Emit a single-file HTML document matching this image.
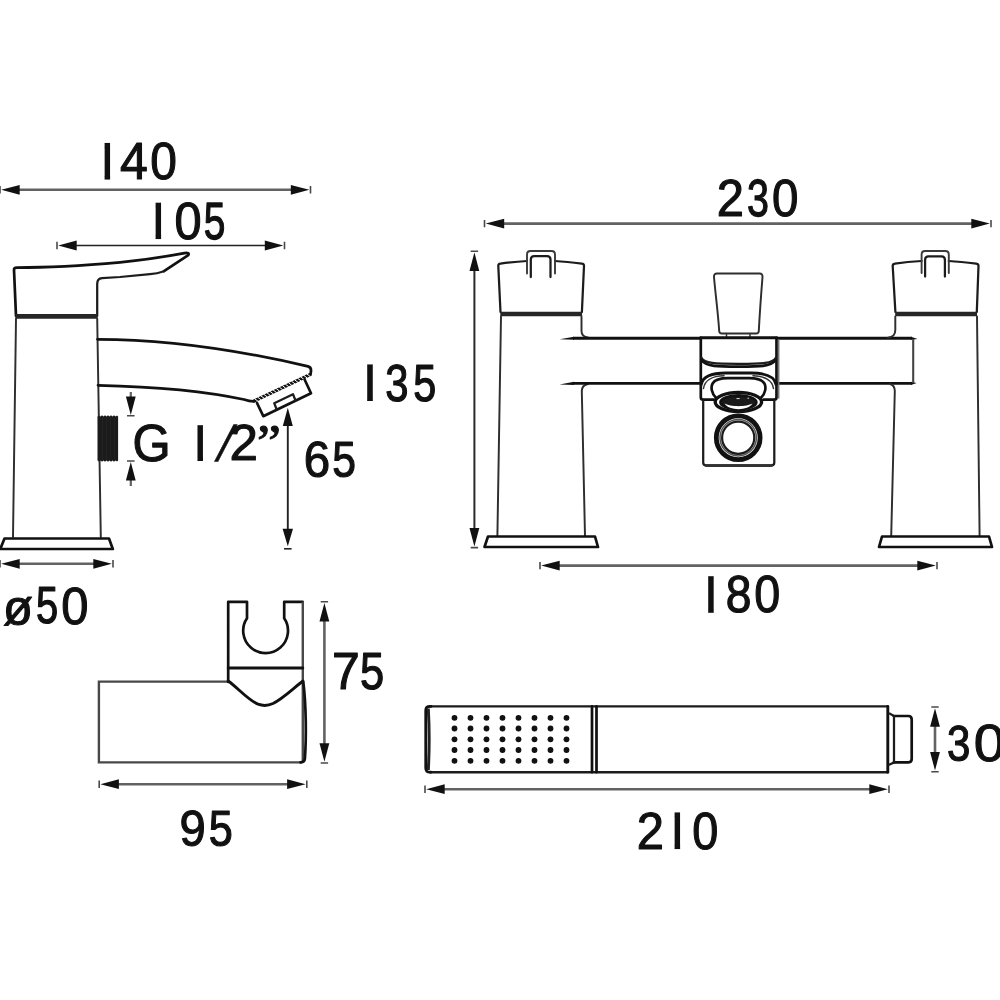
<!DOCTYPE html>
<html lang="en">
<head>
<meta charset="utf-8">
<title>Bath shower mixer - dimensions</title>
<style>
html,body{margin:0;padding:0;background:#fff;}
body{width:1000px;height:1000px;overflow:hidden;font-family:"Liberation Sans",sans-serif;}
svg{display:block;position:absolute;left:0;top:0;}
text{font-family:"Liberation Sans",sans-serif;font-size:100px;fill:#111;stroke:#111;stroke-linejoin:round;}
.o{fill:none;stroke:#111;stroke-width:2.7;stroke-linejoin:round;stroke-linecap:round;}
.m{fill:none;stroke:#1c1c1c;stroke-width:2.25;stroke-linejoin:round;stroke-linecap:round;}
.p{fill:none;stroke:#2e2e2e;stroke-width:1.95;stroke-linejoin:round;stroke-linecap:round;}
.n{fill:none;stroke:#333;stroke-width:1.5;stroke-linejoin:round;stroke-linecap:round;}
.k{fill:none;stroke:#262626;stroke-width:4.7;}
.k2{fill:none;stroke:#111;stroke-width:2.9;stroke-linecap:round;stroke-linejoin:round;}
.h{fill:none;stroke:#111;stroke-width:3.2;}
.h2{fill:none;stroke:#fff;stroke-width:1.3;stroke-dasharray:0.7 1.7;}
.g{fill:none;stroke:#484848;stroke-width:2.4;}
.d{fill:none;stroke:#626262;}
.a{fill:#111;stroke:none;}
.t{fill:none;stroke:#4a4a4a;stroke-width:1.6;}
</style>
</head>
<body>
<svg width="1000" height="1000" viewBox="0 0 1000 1000">
<defs><clipPath id="one"><rect x="25.146" y="-68.799" width="8.838" height="68.799"/></clipPath></defs>
<rect width="1000" height="1000" fill="#fff"/>
<g id="side">
<path class="o" d="M16 316L14 269.6Q14 267.6 17 267.6C45 267.6 85 265.5 120 262.4C145 259.8 165 256.8 184.5 253.2Q189.8 252.2 188.3 255.2L164 271.2"/>
<path class="m" d="M164 271.2Q157 273.6 150 274.2L120 277L102 278.2Q97.2 278.5 97.2 284V316"/>
<path class="k" d="M15.5 316.3H97.5"/>
<path class="p" d="M16 318.5L13 537M97.2 318.5L100.8 537"/>
<path class="o" d="M4.5 538.5H109L112.8 549H0.3Z"/>
<path class="o" d="M97.5 339.3C150 339.3 218 345.2 308 366.4Q311.3 367.3 311 371L310.6 374.3"/>
<path class="o" d="M98 385.3C150 386.5 205 391 244 399.5Q250 401.5 254 401.3"/>
<path class="h" d="M253.5 401.3L310.8 374.2"/>
<path d="M254.6 398.7L258.0 401.2M257.7 397.2L261.1 399.8M260.7 395.8L264.2 398.3M263.8 394.3L267.2 396.9M266.9 392.8L270.3 395.4M270.0 391.4L273.4 394.0M273.0 389.9L276.5 392.5M276.1 388.5L279.5 391.1M279.2 387.0L282.6 389.6M282.3 385.6L285.7 388.2M285.3 384.1L288.8 386.7M288.4 382.7L291.8 385.3M291.5 381.2L294.9 383.8M294.6 379.8L298.0 382.4M297.6 378.3L301.1 380.9M300.7 376.9L304.1 379.5M303.8 375.4L307.2 378.0M306.9 374.0L310.3 376.6" fill="none" stroke="#fff" stroke-width="1"/>
<path class="o" d="M257 403L263.3 416.2L311 393.2L304.6 379.5"/>
<path class="m" d="M276.5 409L274.2 403.2L293 394.2L295.3 400"/>
<path fill="#1b1b1b" d="M97.5 416.5l1.5-1 1.5 1 1.5-1.2 1.5 1.2 1.5-1.2 1.5 1.2 1.5-1.2 1.5 1.2 1.5-1.2 1.5 1.2 1.5-1.2 1.5 1.2 1.5-1 1.1 1V460.5l-1.1 1-1.5-1-1.5 1.2-1.5-1.2-1.5 1.2-1.5-1.2-1.5 1.2-1.5-1.2-1.5 1.2-1.5-1.2-1.5 1.2-1.5-1.2-1.5 1-1.5-1Z"/>
<path stroke="#252525" stroke-width="0.7" fill="none" d="M102.5 418V459M106.5 418V459M110.5 418V459M114.5 418V459"/>
</g>
<path d="M8.0 189.8H302.5" class="d" stroke-width="2.6"/><path d="M1.2 189.8l18.5 -4.9v9.8z" class="a"/><path d="M309.3 189.8l-18.5 -4.9v9.8z" class="a"/><path d="M0.0 186.1v7.4M310.5 186.1v7.4" class="t"/>
<path d="M65.0 245.5H276.5" class="d" style="stroke:#222" stroke-width="1.7"/><path d="M58.2 245.5l18.5 -4.9v9.8z" class="a"/><path d="M283.3 245.5l-18.5 -4.9v9.8z" class="a"/><path d="M57.0 241.8v7.4M284.5 241.8v7.4" class="t"/>
<path d="M8.0 563.8H105.0" class="d" stroke-width="2.6"/><path d="M1.2 563.8l18.5 -4.9v9.8z" class="a"/><path d="M111.8 563.8l-18.5 -4.9v9.8z" class="a"/><path d="M0.0 560.1v7.4M113.0 560.1v7.4" class="t"/>
<path d="M287.8 415V540" class="d" style="stroke:#222" stroke-width="1.9"/><path d="M287.8 407.8l-5 18.2h10zM287.8 546.2l-5.2 -17.5h10.4z" class="a"/><path d="M284 548.8h7.6" class="t" style="stroke:#222"/>
<path d="M130.8 392V400M130.8 478V486" class="d" stroke-width="2.2"/><path d="M130.8 415l-4.9 -18.5h9.8zM130.8 462l-4.9 18.5h9.8z" class="a"/><path d="M127 415.8h7.6M127 461h7.6" class="t"/>
<g id="front">
<path class="m" d="M500.5 312L498.3 266Q498.2 263.9 500.5 263.6C508 262.6 518 261.5 527 261M555 261C564 261.5 574 262.6 581.8 263.6Q584.2 263.9 584 266L581.9 312"/>
<path class="n" style="stroke-width:1.9;stroke:#3a3a3a" d="M527 273.5V254.5Q527 251 530.5 251H551.5Q555 251 555 254.5V273.5"/>
<path class="m" d="M530.8 277V259.5Q530.8 256 534.3 256H547Q550.5 256 550.5 259.5V277"/>
<path class="k" d="M500.3 314H582.1"/>
<path class="p" d="M501 316.5L497.4 536"/>
<path class="p" d="M581.5 316.5V331Q581.5 337 588.5 337.6"/>
<path class="p" d="M588 384Q582 385 581.8 391L585 536"/>
<path class="o" d="M488 536.5H595L598 547H484.5Z"/>
<path class="k2" d="M573 338.3H700.5M573 383.4H700.5" style="stroke-linecap:butt"/>
<path fill="#111" d="M559.5 339.3L574 336.75V339.85ZM559.5 384.4L574 381.85V384.95Z"/>
<path class="k2" d="M777 338.3H912M777 383.4H912" style="stroke-linecap:butt"/>
<path fill="#111" d="M917.6 338.9L911 336.75V339.85ZM916.6 383.1L911 381.85V384.95Z"/>
<path class="g" d="M913.2 339V383" style="stroke:#444;stroke-width:2.1"/>
<path class="m" d="M895.4 312L892.7 266Q892.6 263.9 895 263.6C902 262.6 913 261.5 921.6 261M948.8 261C957.5 261.5 968 262.6 976.2 263.6Q978.6 263.9 978.5 266L976.8 312"/>
<path class="n" style="stroke-width:1.9;stroke:#3a3a3a" d="M921.6 273V254.5Q921.6 251 925.1 251H945.3Q948.8 251 948.8 254.5V273"/>
<path class="m" d="M925.1 276.5V259.8Q925.1 256.3 928.6 256.3H941.4Q944.9 256.3 944.9 259.8V276.5"/>
<path class="k" d="M895.2 314H977"/>
<path class="p" d="M895.3 316.5V330Q895.3 337 888 337.6M977 316.5L979.6 536"/>
<path class="p" d="M890 384Q894.6 385 894.8 391L891.2 536"/>
<path class="o" d="M882 536.5H989L992 547H879Z"/>
<path class="p" d="M719.2 331C718 312 715.2 292 714 277Q713.8 273.5 717 273.5H759.5Q762.7 273.5 762.5 277C761.3 292 759.8 312 758.8 331Q758.7 333.5 756.2 333.5H721.8Q719.3 333.5 719.2 331Z"/>
<path class="n" d="M726.5 333.5v3M750 333.5v3"/>
<path class="k2" d="M700.8 337.8H776.5"/>
<path class="o" d="M700.8 337.8V397.2Q700.8 399.7 703.3 399.7H714M763.5 399.7H774Q776.5 399.7 776.5 397.2V337.8"/>
<path class="n" d="M778.7 340V398" style="stroke:#777"/>
<path class="m" d="M703.2 400.5V462.5Q703.2 465.3 706 465.3H771.5Q774.3 465.3 774.3 462.5V400.5"/>
<path class="k2" d="M706 465.6H771.5" style="stroke:#333"/>
<path class="m" d="M701.3 357.5C704 363.6 715 363.9 738.6 363.9S773 363.6 776 357.5"/>
<path class="o" d="M702 360.5C706 366.6 718 366.6 738.6 366.6S771 366.6 775.3 360.5"/>
<path class="k2" d="M701.2 384.5C702.5 377.5 710 373 726 373H751C767 373 774.8 377.5 776 384.5"/>
<path class="n" d="M703.5 388.5C704.5 381 711.5 376 724 375.8M753 375.8C765.5 376 772.5 381 773.5 388.5"/>
<path class="o" d="M715.8 397.5C711.5 393.5 710.6 387 712.6 383.5C715.3 379 721 378.2 728 378.2H749C756 378.2 761.7 379 764.4 383.5C766.4 387 765.5 393.5 761.2 397.5"/>
<ellipse cx="738.4" cy="402" rx="23.2" ry="9.6" fill="#fff" stroke="#111" stroke-width="3.3"/>
<ellipse cx="738.4" cy="402.3" rx="18" ry="6.9" fill="#1a1a1a" stroke="#111" stroke-width="2.6"/>
<path fill="#fff" d="M724.5 403.6C729 411 748 411 752.5 403.6C747 407 730 407 724.5 403.6Z"/>
<path stroke="#ddd" stroke-width="1" fill="none" d="M736.5 398.6h3.2M747.5 398.2h1.6"/>
<circle cx="738.2" cy="437.7" r="21.9" fill="none" stroke="#111" stroke-width="4.8"/>
<circle class="n" cx="738.2" cy="437.7" r="18.2" style="stroke:#555"/>
<circle class="m" cx="738.2" cy="437.7" r="16.1"/>
</g>
<path d="M492.5 223.6H983.0" class="d" stroke-width="2.6"/><path d="M485.7 223.6l18.5 -4.9v9.8z" class="a"/><path d="M989.8 223.6l-18.5 -4.9v9.8z" class="a"/><path d="M484.5 219.9v7.4M991.0 219.9v7.4" class="t"/>
<path d="M548.0 565.6H929.0" class="d" stroke-width="2.6"/><path d="M541.2 565.6l18.5 -4.9v9.8z" class="a"/><path d="M935.8 565.6l-18.5 -4.9v9.8z" class="a"/><path d="M540.0 561.9v7.4M937.0 561.9v7.4" class="t"/>
<path d="M474.4 259.2V539.6" class="d" style="stroke:#2a2a2a" stroke-width="2.0"/><path d="M474.4 252.4l-4.9 18.5h9.8z" class="a"/><path d="M474.4 546.4l-4.9 -18.5h9.8z" class="a"/><path d="M470.7 251.2h7.4M470.7 547.6h7.4" class="t"/>
<g id="bracket">
<path class="g" d="M228 681.6H98.9V762.4H302"/>
<path class="g" d="M302.8 668V761"/>
<path class="o" d="M303.3 682C306.2 705 306.4 738 304.9 758.5Q304.5 762.4 300.5 762.4"/>
<path class="o" d="M228.2 682V601.8H247V618.2A22.4 22.4 0 1 0 284.2 618.2V601.8H302.6"/>
<path class="g" d="M302.8 601.8V668"/>
<path class="k2" d="M228.2 668H302.8"/>
<path class="k2" d="M228.2 681C238 688 248 700 258 704.2Q265.5 707 273 703.5C283 698.5 293 688.5 303 681"/>
</g>
<path d="M324.4 609.7V755.0" class="d" stroke-width="2.6"/><path d="M324.4 602.9l-4.9 18.5h9.8z" class="a"/><path d="M324.4 761.8l-4.9 -18.5h9.8z" class="a"/><path d="M320.7 601.7h7.4M320.7 763.0h7.4" class="t"/>
<path d="M107.2 784.2H298.8" class="d" stroke-width="2.6"/><path d="M100.4 784.2l18.5 -4.9v9.8z" class="a"/><path d="M305.6 784.2l-18.5 -4.9v9.8z" class="a"/><path d="M99.2 780.5v7.4M306.8 780.5v7.4" class="t"/>
<g id="handset">
<path class="m" style="stroke-width:2.4" d="M887.5 706.4H430M430 772.2H887.5"/>
<path class="o" d="M431 706.4H430Q425.7 706.4 425.7 710.5V768Q425.7 772.2 430 772.2H431"/>
<path fill="none" stroke="#222" stroke-width="3" d="M428.3 708.5Q430 739 428.3 770"/>
<path class="o" d="M592 706.4V772.2M596.5 706.4V772.2"/>
<path class="k2" d="M887.8 706.4V772.2"/>
<path class="m" d="M889.6 713.6L894 716M889.6 764.6L894 762.4"/>
<path class="o" d="M893.8 716H908.3Q911.7 716 911.7 719.4V759Q911.7 762.4 908.3 762.4H893.8"/>
<path class="m" d="M894 716V762.4"/>
<g fill="#111"><circle cx="454.5" cy="717.8" r="2.9"/><circle cx="454.5" cy="728.5" r="2.9"/><circle cx="454.5" cy="739.3" r="2.9"/><circle cx="454.5" cy="750.0" r="2.9"/><circle cx="454.5" cy="760.8" r="2.9"/><circle cx="470.5" cy="717.8" r="2.9"/><circle cx="470.5" cy="728.5" r="2.9"/><circle cx="470.5" cy="739.3" r="2.9"/><circle cx="470.5" cy="750.0" r="2.9"/><circle cx="470.5" cy="760.8" r="2.9"/><circle cx="486.5" cy="717.8" r="2.9"/><circle cx="486.5" cy="728.5" r="2.9"/><circle cx="486.5" cy="739.3" r="2.9"/><circle cx="486.5" cy="750.0" r="2.9"/><circle cx="486.5" cy="760.8" r="2.9"/><circle cx="502.5" cy="717.8" r="2.9"/><circle cx="502.5" cy="728.5" r="2.9"/><circle cx="502.5" cy="739.3" r="2.9"/><circle cx="502.5" cy="750.0" r="2.9"/><circle cx="502.5" cy="760.8" r="2.9"/><circle cx="518.5" cy="717.8" r="2.9"/><circle cx="518.5" cy="728.5" r="2.9"/><circle cx="518.5" cy="739.3" r="2.9"/><circle cx="518.5" cy="750.0" r="2.9"/><circle cx="518.5" cy="760.8" r="2.9"/><circle cx="534.5" cy="717.8" r="2.9"/><circle cx="534.5" cy="728.5" r="2.9"/><circle cx="534.5" cy="739.3" r="2.9"/><circle cx="534.5" cy="750.0" r="2.9"/><circle cx="534.5" cy="760.8" r="2.9"/><circle cx="550.5" cy="717.8" r="2.9"/><circle cx="550.5" cy="728.5" r="2.9"/><circle cx="550.5" cy="739.3" r="2.9"/><circle cx="550.5" cy="750.0" r="2.9"/><circle cx="550.5" cy="760.8" r="2.9"/><circle cx="566.5" cy="717.8" r="2.9"/><circle cx="566.5" cy="728.5" r="2.9"/><circle cx="566.5" cy="739.3" r="2.9"/><circle cx="566.5" cy="750.0" r="2.9"/><circle cx="566.5" cy="760.8" r="2.9"/></g>
</g>
<path d="M935.0 715.0V763.7" class="d" stroke-width="2.6"/><path d="M935.0 708.2l-4.9 18.5h9.8z" class="a"/><path d="M935.0 770.5l-4.9 -18.5h9.8z" class="a"/><path d="M931.3 707.0h7.4M931.3 771.7h7.4" class="t"/>
<path d="M433.0 789.2H881.0" class="d" stroke-width="2.6"/><path d="M426.2 789.2l18.5 -4.9v9.8z" class="a"/><path d="M887.8 789.2l-18.5 -4.9v9.8z" class="a"/><path d="M425.0 785.5v7.4M889.0 785.5v7.4" class="t"/>
<g id="labels" style="opacity:.999">
<g><text transform="translate(88.95 179.50) scale(0.6223 0.5334)" clip-path="url(#one)" stroke="none">1</text><text transform="translate(120.10 178.95) scale(0.5001 0.5175)" stroke-width="2.16">4</text><text transform="translate(150.18 179.04) scale(0.4791 0.5198)" stroke-width="2.20">0</text></g>
<g><text transform="translate(139.95 239.20) scale(0.6223 0.5291)" clip-path="url(#one)" stroke="none">1</text><text transform="translate(174.45 238.75) scale(0.4874 0.5155)" stroke-width="2.19">0</text><text transform="translate(203.70 238.75) scale(0.3881 0.5145)" stroke-width="2.46">5</text></g>
<g><text transform="translate(3.10 624.92) scale(0.4890 0.4987)" stroke-width="2.23">ø</text><text transform="translate(35.95 623.35) scale(0.3986 0.5131)" stroke-width="2.43">5</text><text transform="translate(61.14 623.54) scale(0.4895 0.5184)" stroke-width="2.18">0</text></g>
<g><text transform="translate(132.58 460.85) scale(0.4902 0.5127)" stroke-width="2.19">G</text><text transform="translate(181.85 461.00) scale(0.6223 0.5204)" clip-path="url(#one)" stroke="none">1</text><text transform="translate(214.53 460.71) skewX(-15.025) scale(0.4678 0.5025)" stroke="none">/</text><text transform="translate(229.58 460.45) scale(0.5115 0.5027)" stroke-width="2.17">2</text><text transform="translate(257.08 459.07) scale(0.5395 0.5101)" stroke-width="2.10" style="font-family:'Liberation Serif',serif">”</text></g>
<g><text transform="translate(303.64 476.66) scale(0.4746 0.5028)" stroke-width="2.25">6</text><text transform="translate(332.34 476.66) scale(0.4261 0.5016)" stroke-width="2.38">5</text></g>
<g><text transform="translate(351.27 401.00) scale(0.6336 0.5291)" clip-path="url(#one)" stroke="none">1</text><text transform="translate(385.26 400.55) scale(0.4176 0.5155)" stroke-width="2.37">3</text><text transform="translate(413.19 400.55) scale(0.4134 0.5145)" stroke-width="2.39">5</text></g>
<g><text transform="translate(716.69 215.65) scale(0.4895 0.5113)" stroke-width="2.20">2</text><text transform="translate(747.05 215.75) scale(0.3944 0.5127)" stroke-width="2.45">3</text><text transform="translate(771.90 215.74) scale(0.4749 0.5184)" stroke-width="2.22">0</text></g>
<g><text transform="translate(692.55 612.80) scale(0.6223 0.5320)" clip-path="url(#one)" stroke="none">1</text><text transform="translate(725.74 612.34) scale(0.4625 0.5184)" stroke-width="2.25">8</text><text transform="translate(754.13 612.34) scale(0.4665 0.5184)" stroke-width="2.24">0</text></g>
<g><text transform="translate(331.89 689.35) scale(0.4994 0.5145)" stroke-width="2.17">7</text><text transform="translate(360.11 689.35) scale(0.4345 0.5145)" stroke-width="2.33">5</text></g>
<g><text transform="translate(179.54 846.26) scale(0.4719 0.5056)" stroke-width="2.25">9</text><text transform="translate(208.82 846.25) scale(0.4324 0.5073)" stroke-width="2.35">5</text></g>
<g><text transform="translate(946.95 760.55) scale(0.4197 0.5085)" stroke-width="2.38">3</text><text transform="translate(973.85 760.94) scale(0.5627 0.5212)" stroke-width="2.03">0</text></g>
<g><text transform="translate(636.69 848.65) scale(0.4895 0.5170)" stroke-width="2.19">2</text><text transform="translate(658.95 849.20) scale(0.6223 0.5320)" clip-path="url(#one)" stroke="none">1</text><text transform="translate(692.22 848.55) scale(0.4686 0.5155)" stroke-width="2.24">0</text></g>
</g>
</svg>
</body>
</html>
